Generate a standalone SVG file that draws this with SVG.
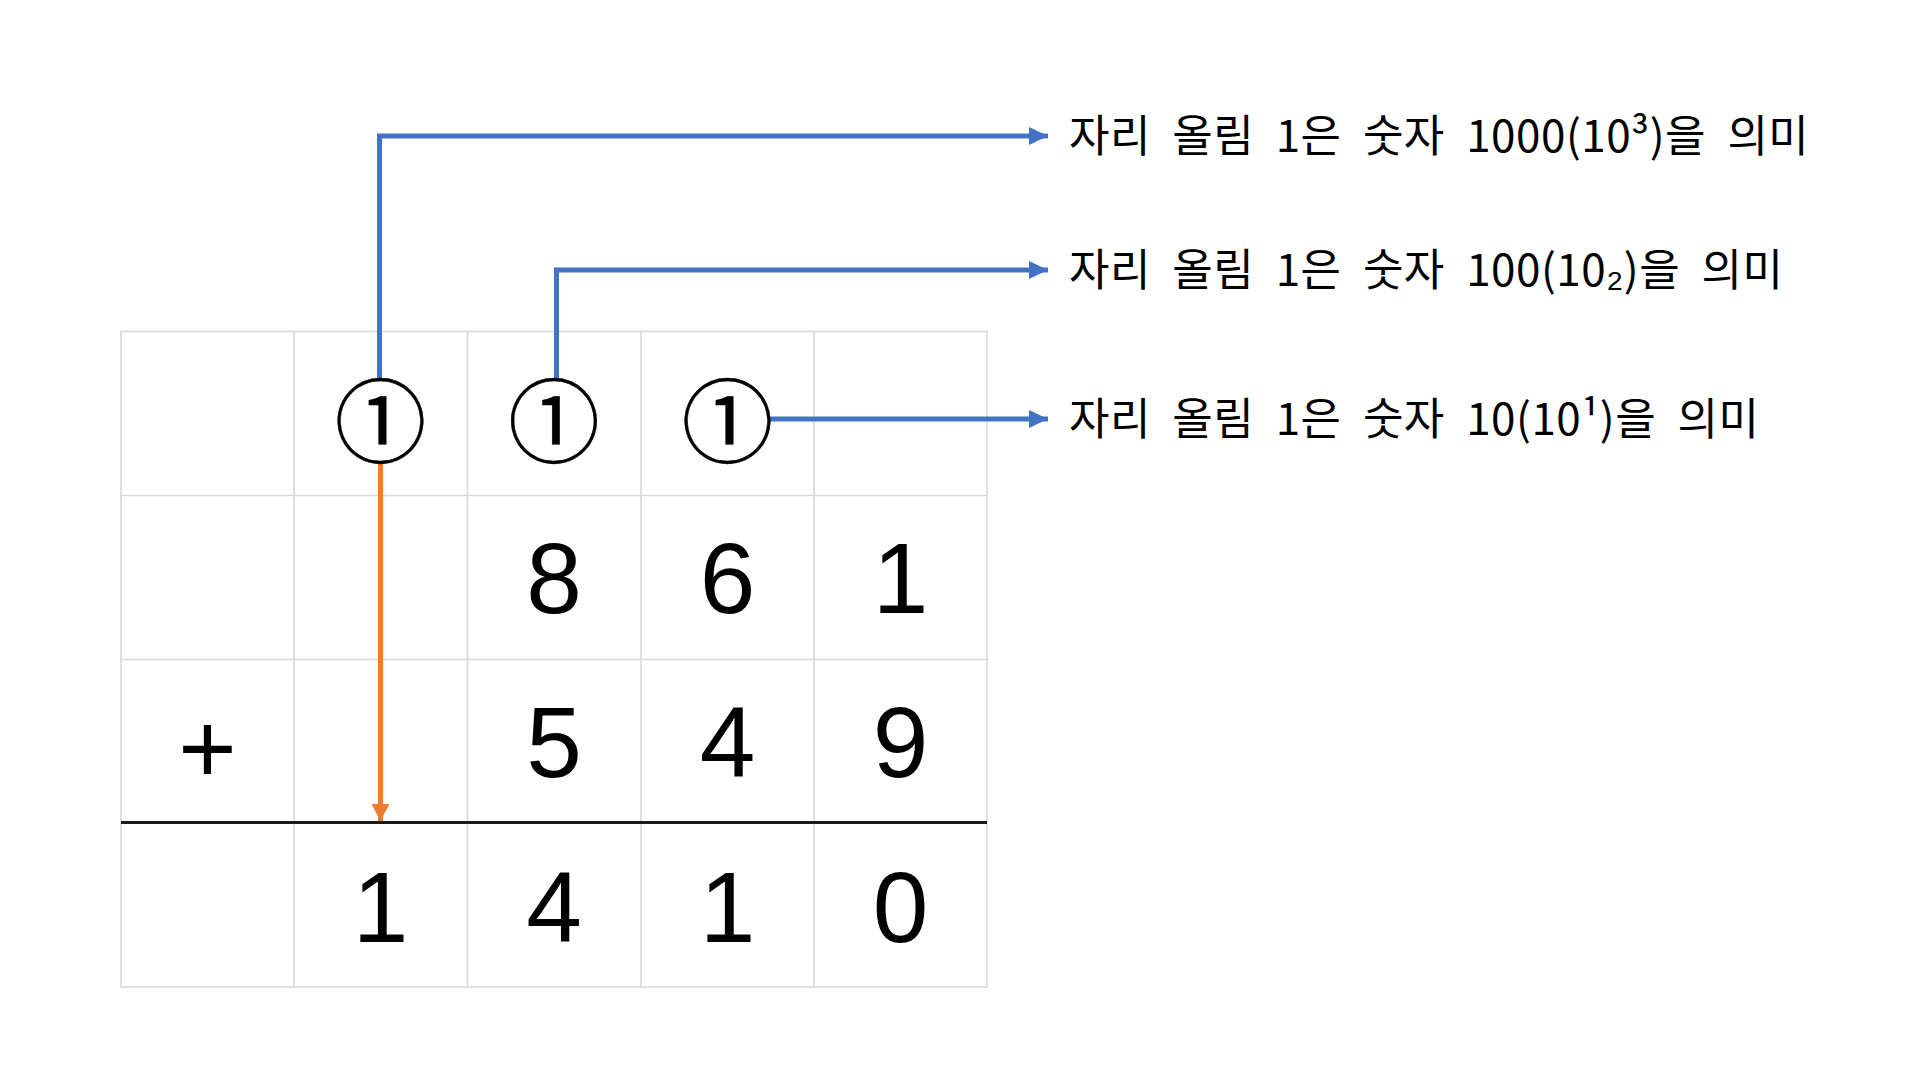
<svg xmlns="http://www.w3.org/2000/svg" width="1914" height="1081" viewBox="0 0 1914 1081">
<style>
.grid{stroke:#d9d9d9;stroke-width:1.6;fill:none}
.sum{stroke:#1a1a1a;stroke-width:2.8}
.dg{font-family:"Liberation Sans",Arial,sans-serif;font-size:100px;fill:#000;text-anchor:middle}
.cc{font-family:"Noto Sans CJK KR",sans-serif;font-size:92px;fill:#000;stroke:#000;stroke-width:0.4;text-anchor:middle}
.lb{font-family:"Noto Sans CJK KR",sans-serif;font-size:44px;fill:#000;word-spacing:11px;letter-spacing:0.5px}
.blue{stroke:#4472C4;stroke-width:5;fill:none}
.org{stroke:#ED7D31;stroke-width:5;fill:none}
</style>
<defs>
<marker id="ab" markerUnits="userSpaceOnUse" markerWidth="20" markerHeight="20" refX="19" refY="9" orient="auto"><path d="M0,0 L19,9 L0,18 Z" fill="#4472C4"/></marker>
<marker id="ao" markerUnits="userSpaceOnUse" markerWidth="20" markerHeight="20" refX="17" refY="9" orient="auto"><path d="M0,0 L17,9 L0,18 Z" fill="#ED7D31"/></marker>
</defs>
<rect width="1914" height="1081" fill="#fff"/>
<g id="grid">
<rect class="grid" x="121" y="331.5" width="866" height="655.5"/>
<path class="grid" d="M294,331.5V987 M467.5,331.5V987 M641,331.5V987 M814,331.5V987 M121,495.5H987 M121,659.5H987"/>
<line class="sum" x1="121" y1="822.5" x2="987" y2="822.5"/>
</g>
<g id="connectors">
<path class="blue" d="M379.5,379 V136 H1048" marker-end="url(#ab)"/>
<path class="blue" d="M556.5,379 V270 H1048" marker-end="url(#ab)"/>
<path class="blue" d="M769,419 H1048" marker-end="url(#ab)"/>
<path class="org" d="M380.5,464 V821" marker-end="url(#ao)"/>
</g>
<g id="carry-1000"><text class="cc" x="380.5" y="456">①</text></g>
<g id="carry-100"><text class="cc" x="554" y="456">①</text></g>
<g id="carry-10"><text class="cc" x="727.5" y="456">①</text></g>
<g id="row-861">
<text class="dg" x="554" y="613">8</text>
<text class="dg" x="727.5" y="613">6</text>
<text class="dg" x="900.5" y="613">1</text>
</g>
<g id="row-549">
<text class="dg" x="207.5" y="783">+</text>
<text class="dg" x="554" y="777">5</text>
<text class="dg" x="727.5" y="777">4</text>
<text class="dg" x="900.5" y="777">9</text>
</g>
<g id="row-1410">
<text class="dg" x="380.5" y="942">1</text>
<text class="dg" x="554" y="942">4</text>
<text class="dg" x="727.5" y="942">1</text>
<text class="dg" x="900.5" y="942">0</text>
</g>
<g id="label-1000"><text class="lb" x="1069" y="152">자리 올림 1은 숫자 1000(10³)을 의미</text></g>
<g id="label-100"><text class="lb" x="1069" y="286">자리 올림 1은 숫자 100(10₂)을 의미</text></g>
<g id="label-10"><text class="lb" x="1069" y="435">자리 올림 1은 숫자 10(10¹)을 의미</text></g>
</svg>
